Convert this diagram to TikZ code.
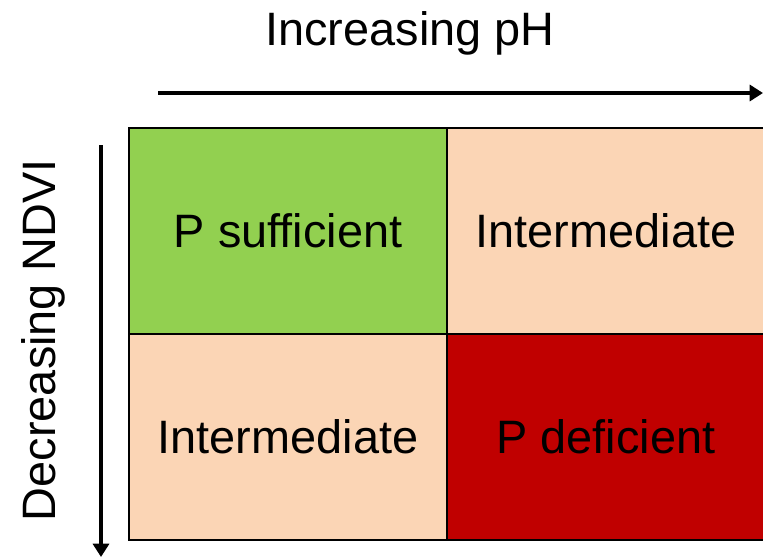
\documentclass[tikz,border=0pt]{standalone}
\usepackage{fontspec}
\setmainfont{Liberation Sans}
\usepackage{tikz}
\usetikzlibrary{arrows.meta, positioning}
\definecolor{suffgreen}{HTML}{92D050}
\definecolor{midpeach}{HTML}{FBD5B5}
\definecolor{deficred}{HTML}{C00000}

\begin{document}
\begin{tikzpicture}[x=0.03cm, y=-0.03cm,
  cell/.style={draw, line width=2.4pt, outer sep=0pt, minimum width=9.54cm, minimum height=6.18cm, font=\fontsize{40}{48}\selectfont},
  axis/.style={-{Triangle[length=0.4cm, width=0.48cm]}, line width=3.2pt}]
  \useasboundingbox (0,0) rectangle (763,559);

  \node[cell, fill=suffgreen, anchor=north west] (psuff) at (129,128) {P sufficient};
  \node[cell, fill=midpeach, right=0pt of psuff] (intertop) {Intermediate};
  \node[cell, fill=midpeach, below=0pt of psuff] (interbot) {Intermediate};
  \node[cell, fill=deficred, right=0pt of interbot] (pdef) {P deficient};

  \node[font=\fontsize{40}{48}\selectfont] (phlabel) at (410,33) {Increasing pH};
  \node[font=\fontsize{40}{48}\selectfont, rotate=90] (ndvilabel) at (43,340) {Decreasing NDVI};

  \coordinate (phstart) at (158,93);
  \coordinate (phend) at (763,93);
  \coordinate (ndvistart) at (101,145);
  \coordinate (ndviend) at (101,557);
  \draw[axis] (phstart) -- (phend);
  \draw[axis] (ndvistart) -- (ndviend);
\end{tikzpicture}
\end{document}
